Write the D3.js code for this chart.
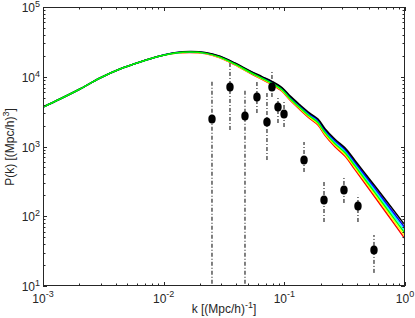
<!DOCTYPE html>
<html><head><meta charset="utf-8">
<script src="https://cdn.jsdelivr.net/npm/d3@7"></script>
<style>
html,body{margin:0;padding:0;background:#fff;}
svg{display:block;font-family:"Liberation Sans",Arial,Helvetica,sans-serif;}
</style></head>
<body><svg id="chart" width="415" height="318"></svg>
<script>
// ---- data ----
const kGrid = [0.001,0.001383,0.002025,0.002968,0.004345,0.00637,0.00932,0.01241,0.01652,0.022,0.0293,0.039,0.0519,0.0653,0.079,0.0956,0.1114,0.1348,0.1632,0.19,0.2173,0.263,0.318,0.385,0.5127,0.6825,1];
const pBlack  = [3680,4800,6675,9600,12900,16270,19840,22120,22990,22340,19670,15740,12170,10060,8590,7000,5312,3950,2990,2475,1798,1268,956,631,334,177,74.5];
const pBlue   = [3680,4800,6675,9600,12900,16270,19840,22030,22850,22160,19480,15540,11980,9875,8405,6830,5168,3830,2886,2380,1722,1207,905,594,312,163,68.1];
const pCyan   = [3680,4800,6675,9600,12900,16270,19840,21940,22720,21990,19290,15340,11790,9690,8225,6660,5027,3710,2786,2288,1649,1150,857,560,291,151,62.2];
const pGreen  = [3680,4800,6675,9600,12900,16270,19840,21860,22580,21810,19090,15140,11610,9510,8048,6500,4890,3595,2689,2200,1580,1095,812,527,271,139,56.8];
const pYellow = [3680,4800,6675,9600,12900,16270,19840,21770,22450,21640,18910,14950,11430,9330,7876,6340,4757,3485,2596,2116,1513,1043,769,496,253,129,51.8];
const pRed    = [3680,4800,6675,9600,12900,16270,19840,21680,22320,21470,18720,14760,11250,9160,7705,6185,4627,3375,2505,2034,1449,993,728,467,236,119,47.3];
const seriesColors = ["#ff0000","#ffff00","#00ffff","#0000ff","#000000","#00ff00"];
const seriesValues = [pRed,pYellow,pCyan,pBlue,pBlack,pGreen];

const obsK    = [0.02515,0.03545,0.0472,0.0593,0.0718,0.079,0.0886,0.0994,0.1456,0.2132,0.312,0.4077,0.5534];
const obsP    = [2478,7130,2738,5128,2246,7130,3683,2924,640,171,238,140,32.8];
const obsHigh = [8990,16800,6460,8410,6045,12500,5128,4345,1160,310,365,202,53.8];
const obsLow  = [1,1725,1,3020,640,5128,2172,1903,431,82.7,155,82.7,15.4];

const xTickExps = [-3,-2,-1,0];
const yTickExps = [1,2,3,4,5];

// ---- layout ----
const svg = d3.select("#chart");
const L=43, R=405, T=7, B=286;
const x = d3.scaleLog().domain([1e-3,1]).range([L,R]);
const y = d3.scaleLog().domain([10,1e5]).range([B,T]);

svg.append("defs").append("clipPath").attr("id","clip")
  .append("rect").attr("x",L).attr("y",T).attr("width",R-L).attr("height",B-T);

const plot = svg.append("g").attr("clip-path","url(#clip)");

// error bars
plot.selectAll("line.err").data(obsK).enter().append("line")
  .attr("x1",(d)=>x(d)).attr("x2",(d)=>x(d))
  .attr("y1",(d,i)=>y(Math.max(obsLow[i],1)))
  .attr("y2",(d,i)=>y(obsHigh[i]))
  .attr("stroke","#000").attr("stroke-width",1)
  .attr("stroke-dasharray","4,2,1,2");

// model lines
const line = d3.line().x(d=>x(d[0])).y(d=>y(d[1])).curve(d3.curveCatmullRom.alpha(0.5));
seriesValues.forEach((vals,si)=>{
  plot.append("path").datum(kGrid.map((k,i)=>[k,vals[i]]))
    .attr("d",line).attr("fill","none")
    .attr("stroke",seriesColors[si]).attr("stroke-width",1.5);
});

// points
plot.selectAll("ellipse.pt").data(obsK).enter().append("ellipse")
  .attr("cx",d=>x(d)).attr("cy",(d,i)=>y(obsP[i]))
  .attr("rx",3.7).attr("ry",4.5).attr("fill","#000");

// axes box
const ax = svg.append("g").attr("stroke","#262626").attr("stroke-width",1).attr("fill","none");
ax.append("rect").attr("x",L+0.5).attr("y",T+0.5).attr("width",R-L-1).attr("height",B-T-1);

// ticks
const xMinor = [];
for (let e=-3;e<0;e++) for (let m=1;m<10;m++) xMinor.push(m*Math.pow(10,e));
xMinor.push(1);
xMinor.forEach(v=>{
  const major = Math.abs(Math.log10(v)-Math.round(Math.log10(v)))<1e-9;
  const len = major?4:2.5;
  const px = Math.round(x(v))+0.5;
  ax.append("line").attr("x1",px).attr("x2",px).attr("y1",B).attr("y2",B-len);
  ax.append("line").attr("x1",px).attr("x2",px).attr("y1",T).attr("y2",T+len);
});
const yMinor = [];
for (let e=1;e<5;e++) for (let m=1;m<10;m++) yMinor.push(m*Math.pow(10,e));
yMinor.push(1e5);
yMinor.forEach(v=>{
  const major = Math.abs(Math.log10(v)-Math.round(Math.log10(v)))<1e-9;
  const len = major?4:2.5;
  const py = Math.round(y(v))+0.5;
  ax.append("line").attr("y1",py).attr("y2",py).attr("x1",L).attr("x2",L+len);
  ax.append("line").attr("y1",py).attr("y2",py).attr("x1",R).attr("x2",R-len);
});

// tick labels
const lab = svg.append("g").attr("fill","#262626").attr("font-size",12);
xTickExps.forEach(e=>{
  const t = lab.append("text").attr("x",x(Math.pow(10,e))).attr("y",303).attr("text-anchor","middle");
  t.append("tspan").text("10");
  t.append("tspan").attr("font-size",9).attr("dy",-6).text(String(e));
});
yTickExps.forEach(e=>{
  const t = lab.append("text").attr("x",40).attr("y",y(Math.pow(10,e))+5).attr("text-anchor","end");
  t.append("tspan").text("10");
  t.append("tspan").attr("font-size",9).attr("dy",-5).text(String(e));
});

// axis titles
const xt = lab.append("text").attr("x",224).attr("y",313).attr("text-anchor","middle");
xt.append("tspan").text("k [(Mpc/h)");
xt.append("tspan").attr("font-size",9).attr("dy",-5).text("-1");
xt.append("tspan").attr("dy",5).text("]");

const yt = lab.append("text").attr("transform","translate(14,147) rotate(-90)").attr("text-anchor","middle");
yt.append("tspan").text("P(k) [(Mpc/h)");
yt.append("tspan").attr("font-size",9).attr("dy",-5).text("3");
yt.append("tspan").attr("dy",5).text("]");
</script></body></html>
